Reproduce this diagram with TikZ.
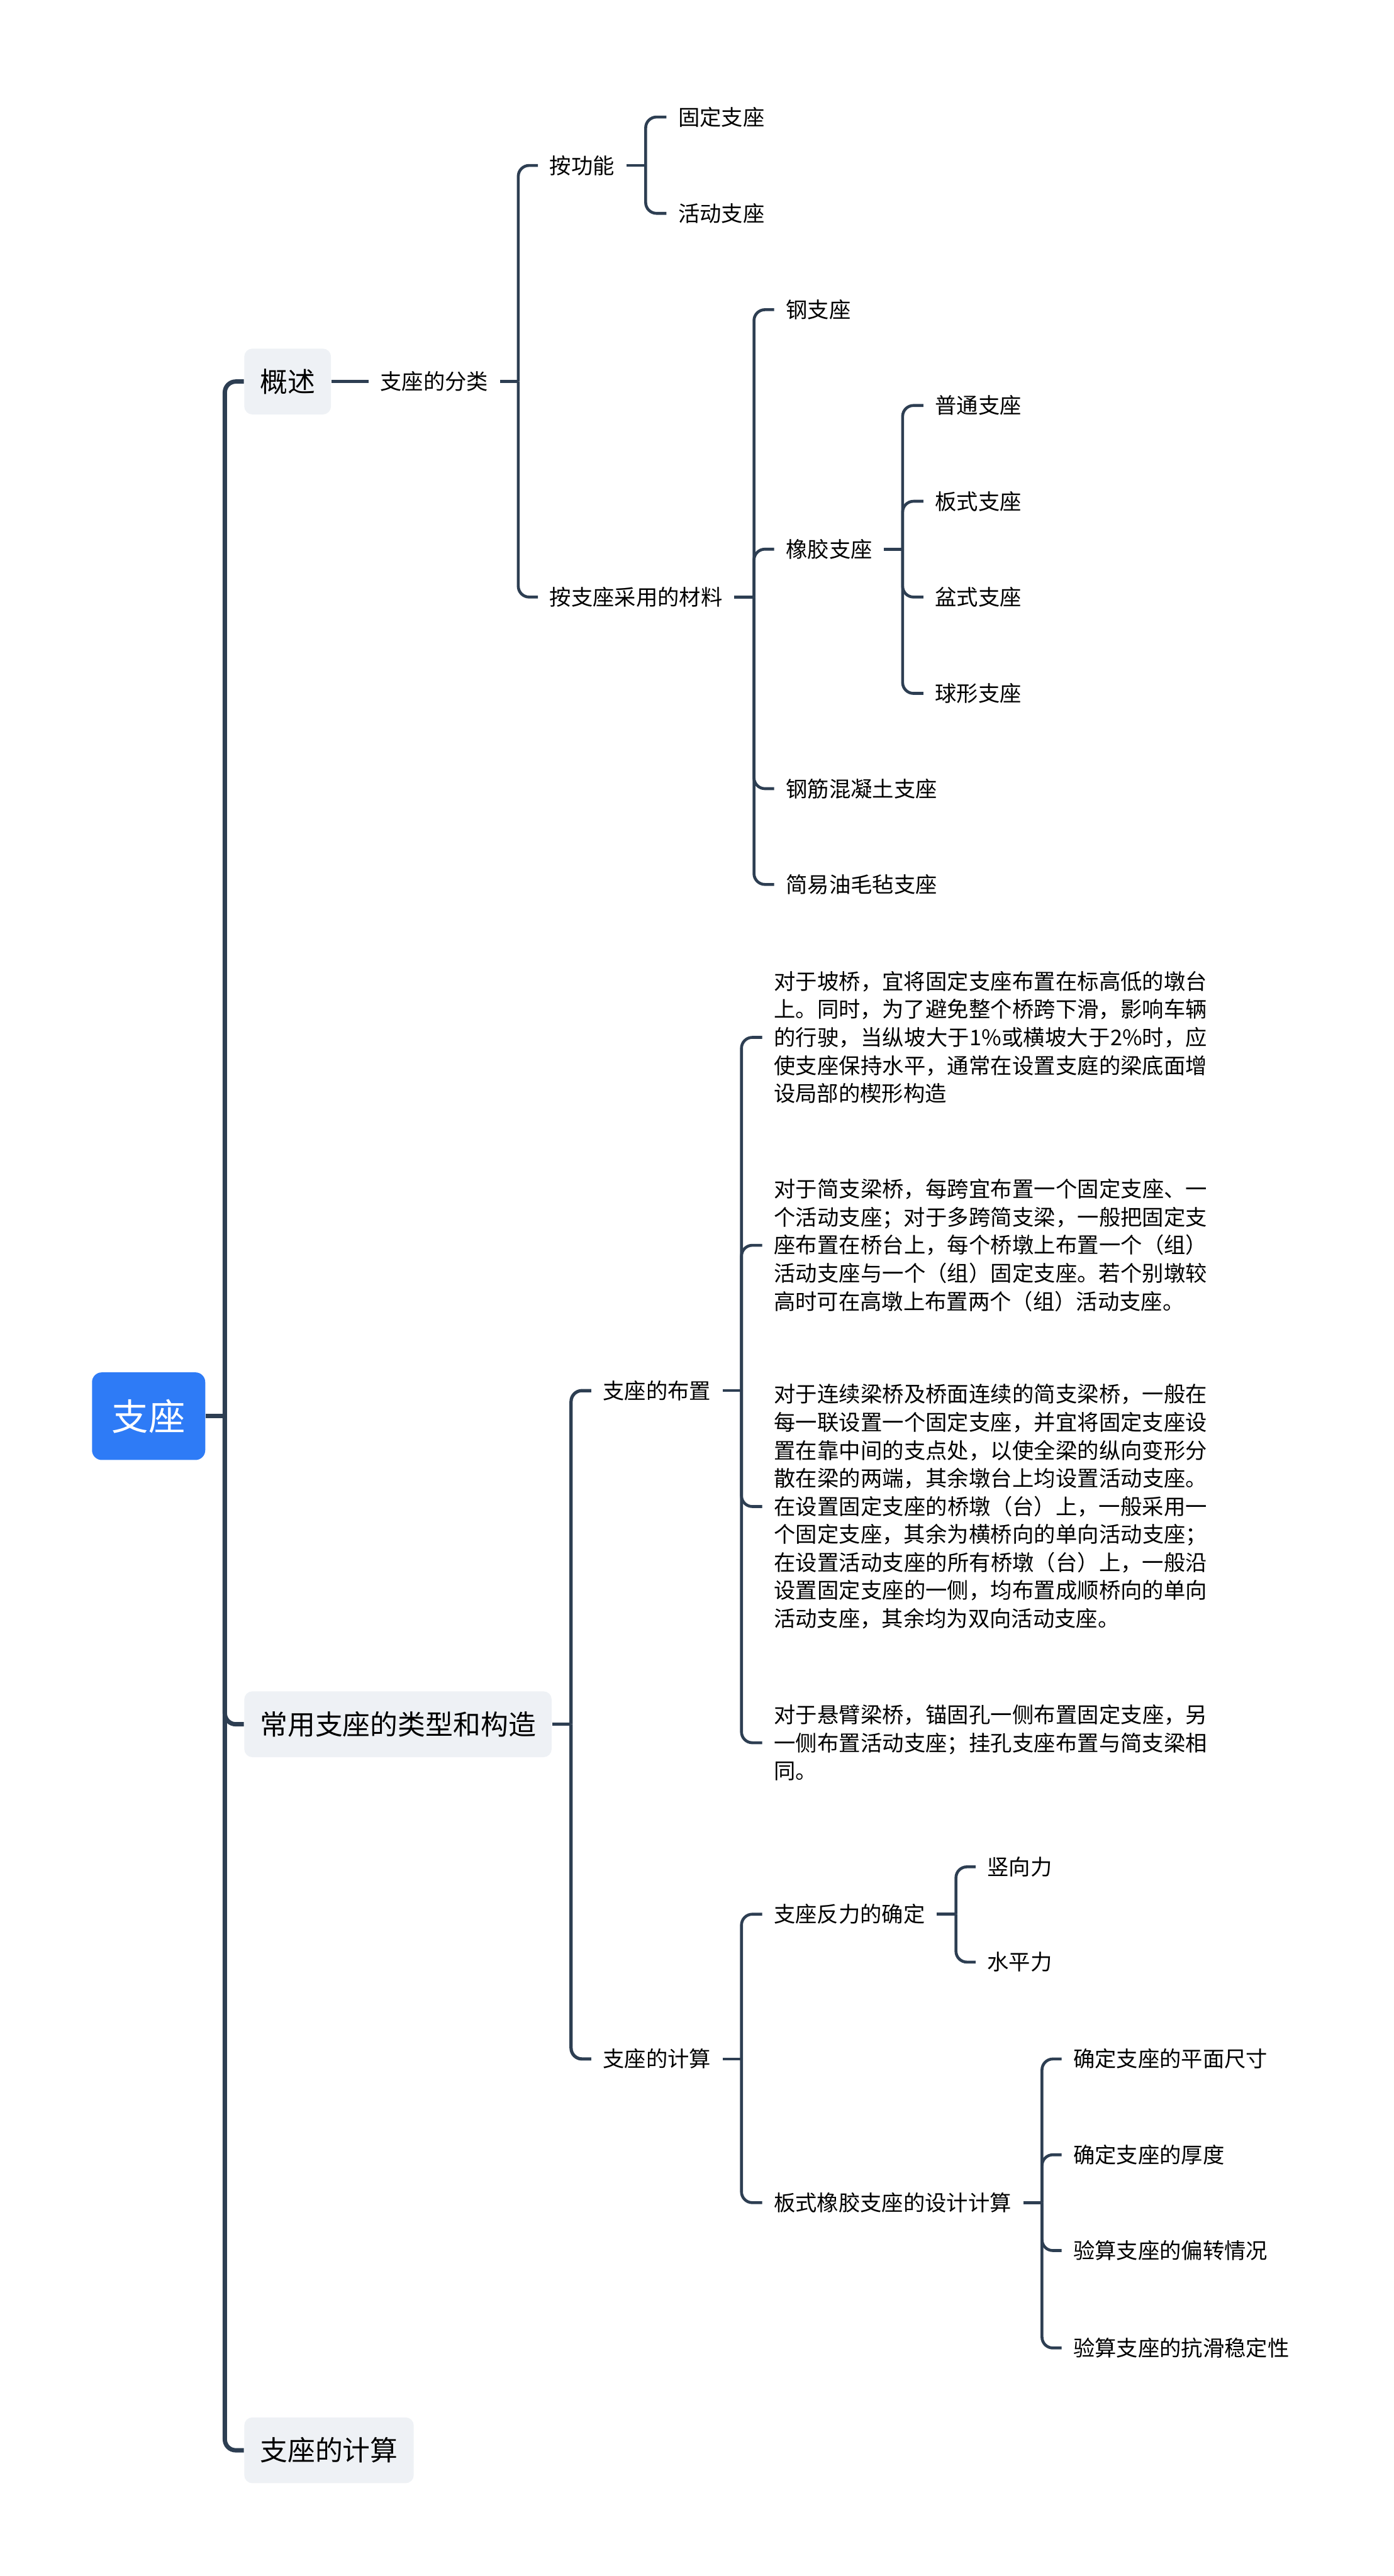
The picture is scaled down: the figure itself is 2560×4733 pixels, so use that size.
\documentclass[tikz,border=0pt]{standalone}
\usepackage{fontspec}
\setmainfont{Noto Sans CJK SC}
\XeTeXlinebreaklocale "zh"
\XeTeXlinebreakskip=0pt plus 1pt
\definecolor{rootblue}{RGB}{46,123,246}
\definecolor{linec}{RGB}{45,62,82}
\definecolor{boxfill}{RGB}{238,241,245}
\newcommand{\cjc}[1]{\raisebox{-0.38em}[0.5em][0.5em]{#1}}
\begin{document}
\begin{tikzpicture}[x=0.3pt,y=-0.3pt,
  rootnode/.style={fill=rootblue, text=white, rounded corners=5.4pt, minimum width=62.4pt, minimum height=48.3pt, inner sep=0pt, font=\fontsize{20.25pt}{24pt}\selectfont},
  topicnode/.style={fill=boxfill, rounded corners=4.5pt, inner xsep=8.7pt, inner ysep=0pt, minimum height=36.3pt, anchor=west, font=\fontsize{15.2pt}{18pt}\selectfont},
  leafnode/.style={inner sep=0pt, anchor=west, font=\fontsize{11.9pt}{14pt}\selectfont},
  paranode/.style={inner sep=0pt, anchor=west, text width=238.8pt, align=justify, font=\fontsize{11.9pt}{15.45pt}\selectfont},
  trunk/.style={draw=linec, line width=2.4pt, rounded corners=6pt},
  conna/.style={draw=linec, line width=1.8pt, rounded corners=6pt},
  connb/.style={draw=linec, line width=1.6pt, rounded corners=6pt},
]
\useasboundingbox (0,0) rectangle (2560,4733);

% root and level 1
\node[rootnode] (root) at (273,2602) {\cjc{支座}};
\node[topicnode] (t1) at (448,701) {\cjc{概述}};
\node[topicnode] (t2) at (448,3168) {\cjc{常用支座的类型和构造}};
\node[topicnode] (t3) at (448,4502) {\cjc{支座的计算}};
\coordinate (jr) at (413,2602);
\draw[trunk] (root.east) -- (jr);
\draw[trunk] (jr) |- (t1.west);
\draw[trunk] (jr) |- (t2.west);
\draw[trunk] (jr) |- (t3.west);

% 概述 branch
\node[leafnode] (a) at (698,701) {\cjc{支座的分类}};
\draw[conna] (t1.east) -- ([xshift=-6.3pt]a.west);
\coordinate (ja) at (952,701);
\node[leafnode] (a1) at (1009,304) {\cjc{按功能}};
\node[leafnode] (a2) at (1009,1097) {\cjc{按支座采用的材料}};
\draw[connb] ([xshift=6.3pt]a.east) -- (ja);
\draw[connb] (ja) |- ([xshift=-6.3pt]a1.west);
\draw[connb] (ja) |- ([xshift=-6.3pt]a2.west);

\coordinate (ja1) at (1186,304);
\node[leafnode] (a11) at (1245,215) {\cjc{固定支座}};
\node[leafnode] (a12) at (1245,392) {\cjc{活动支座}};
\draw[connb] ([xshift=6.3pt]a1.east) -- (ja1);
\draw[connb] (ja1) |- ([xshift=-6.3pt]a11.west);
\draw[connb] (ja1) |- ([xshift=-6.3pt]a12.west);

\coordinate (ja2) at (1385,1097);
\node[leafnode] (a21) at (1443,569) {\cjc{钢支座}};
\node[leafnode] (a22) at (1443,1009) {\cjc{橡胶支座}};
\node[leafnode] (a23) at (1443,1449) {\cjc{钢筋混凝土支座}};
\node[leafnode] (a24) at (1443,1625) {\cjc{简易油毛毡支座}};
\draw[connb] ([xshift=6.3pt]a2.east) -- (ja2);
\draw[connb] (ja2) |- ([xshift=-6.3pt]a21.west);
\draw[connb] (ja2) |- ([xshift=-6.3pt]a22.west);
\draw[connb] (ja2) |- ([xshift=-6.3pt]a23.west);
\draw[connb] (ja2) |- ([xshift=-6.3pt]a24.west);

\coordinate (ja22) at (1658,1009);
\node[leafnode] (b1) at (1717,745) {\cjc{普通支座}};
\node[leafnode] (b2) at (1717,921) {\cjc{板式支座}};
\node[leafnode] (b3) at (1717,1097) {\cjc{盆式支座}};
\node[leafnode] (b4) at (1717,1274) {\cjc{球形支座}};
\draw[connb] ([xshift=6.3pt]a22.east) -- (ja22);
\draw[connb] (ja22) |- ([xshift=-6.3pt]b1.west);
\draw[connb] (ja22) |- ([xshift=-6.3pt]b2.west);
\draw[connb] (ja22) |- ([xshift=-6.3pt]b3.west);
\draw[connb] (ja22) |- ([xshift=-6.3pt]b4.west);

% 常用支座的类型和构造 branch
\coordinate (jt2) at (1049,3168);
\node[leafnode] (c1) at (1107,2555) {\cjc{支座的布置}};
\node[leafnode] (c2) at (1107,3783) {\cjc{支座的计算}};
\draw[conna] (t2.east) -- (jt2);
\draw[conna] (jt2) |- ([xshift=-6.3pt]c1.west);
\draw[conna] (jt2) |- ([xshift=-6.3pt]c2.west);

\coordinate (jc1) at (1362,2555);
\node[paranode] (p1) at (1421,1906) {对于坡桥，宜将固定支座布置在标高低的墩台\linebreak 上。同时，为了避免整个桥跨下滑，影响车辆\linebreak 的行驶，当纵坡大于1\%或横坡大于2\%时，应\linebreak 使支座保持水平，通常在设置支庭的梁底面增\linebreak 设局部的楔形构造};
\node[paranode] (p2) at (1421,2288) {对于简支梁桥，每跨宜布置一个固定支座、一\linebreak 个活动支座；对于多跨简支梁，一般把固定支\linebreak 座布置在桥台上，每个桥墩上布置一个（组）\linebreak 活动支座与一个（组）固定支座。若个别墩较\linebreak 高时可在高墩上布置两个（组）活动支座。};
\node[paranode] (p3) at (1421,2768) {对于连续梁桥及桥面连续的简支梁桥，一般在\linebreak 每一联设置一个固定支座，并宜将固定支座设\linebreak 置在靠中间的支点处，以使全梁的纵向变形分\linebreak 散在梁的两端，其余墩台上均设置活动支座。\linebreak 在设置固定支座的桥墩（台）上，一般采用一\linebreak 个固定支座，其余为横桥向的单向活动支座；\linebreak 在设置活动支座的所有桥墩（台）上，一般沿\linebreak 设置固定支座的一侧，均布置成顺桥向的单向\linebreak 活动支座，其余均为双向活动支座。};
\node[paranode] (p4) at (1421,3202) {对于悬臂梁桥，锚固孔一侧布置固定支座，另\linebreak 一侧布置活动支座；挂孔支座布置与简支梁相\linebreak 同。};
\draw[connb] ([xshift=6.3pt]c1.east) -- (jc1);
\draw[connb] (jc1) |- ([xshift=-6.3pt]p1.west);
\draw[connb] (jc1) |- ([xshift=-6.3pt]p2.west);
\draw[connb] (jc1) |- ([xshift=-6.3pt]p3.west);
\draw[connb] (jc1) |- ([xshift=-6.3pt]p4.west);

\coordinate (jc2) at (1362,3783);
\node[leafnode] (d1) at (1421,3517) {\cjc{支座反力的确定}};
\node[leafnode] (d2) at (1421,4047) {\cjc{板式橡胶支座的设计计算}};
\draw[connb] ([xshift=6.3pt]c2.east) -- (jc2);
\draw[connb] (jc2) |- ([xshift=-6.3pt]d1.west);
\draw[connb] (jc2) |- ([xshift=-6.3pt]d2.west);

\coordinate (jd1) at (1756,3517);
\node[leafnode] (e1) at (1813,3430) {\cjc{竖向力}};
\node[leafnode] (e2) at (1813,3605) {\cjc{水平力}};
\draw[connb] ([xshift=6.3pt]d1.east) -- (jd1);
\draw[connb] (jd1) |- ([xshift=-6.3pt]e1.west);
\draw[connb] (jd1) |- ([xshift=-6.3pt]e2.west);

\coordinate (jd2) at (1914,4047);
\node[leafnode] (f1) at (1971,3783) {\cjc{确定支座的平面尺寸}};
\node[leafnode] (f2) at (1971,3959) {\cjc{确定支座的厚度}};
\node[leafnode] (f3) at (1971,4135) {\cjc{验算支座的偏转情况}};
\node[leafnode] (f4) at (1971,4314) {\cjc{验算支座的抗滑稳定性}};
\draw[connb] ([xshift=6.3pt]d2.east) -- (jd2);
\draw[connb] (jd2) |- ([xshift=-6.3pt]f1.west);
\draw[connb] (jd2) |- ([xshift=-6.3pt]f2.west);
\draw[connb] (jd2) |- ([xshift=-6.3pt]f3.west);
\draw[connb] (jd2) |- ([xshift=-6.3pt]f4.west);

% 支座的计算 (level 1) has no children shown
\end{tikzpicture}
\end{document}
